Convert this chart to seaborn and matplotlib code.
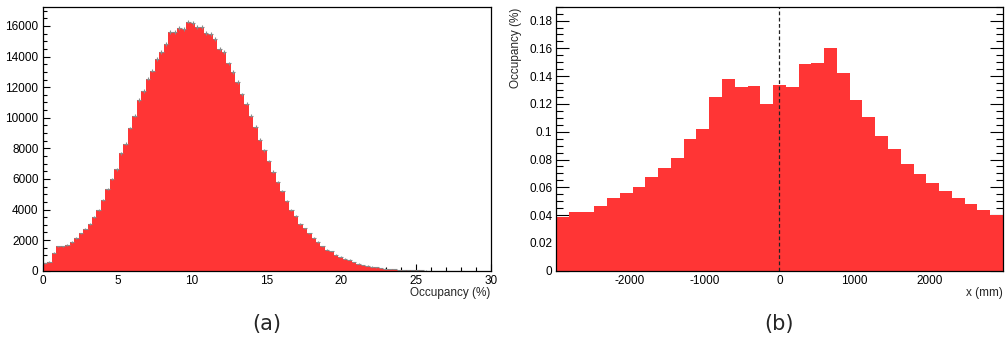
import numpy as np
import pandas as pd
import seaborn as sns
import matplotlib.pyplot as plt
from matplotlib.ticker import MultipleLocator, FuncFormatter

# (a) occupancy distribution: 100 bins between 0 and 30 %
occ_range = (0, 30)
occ_counts = [
    480, 600, 1180, 1600, 1600, 1680, 1880, 2140, 2440, 2750,
    3050, 3530, 3970, 4620, 5340, 5980, 6630, 7680, 8310, 9330,
    10120, 11160, 11750, 12560, 13080, 13850, 14300, 14830, 15590, 15590,
    15890, 15790, 16290, 16220, 15960, 15960, 15530, 15500, 15130, 14480,
    14280, 13560, 13000, 12340, 11540, 10920, 10120, 9400, 8570, 7870,
    7170, 6480, 5820, 5190, 4580, 3970, 3580, 3070, 2770, 2440,
    2160, 1880, 1600, 1370, 1270, 1050, 920, 780, 720, 570,
    460, 370, 330, 270, 220, 180, 140, 110, 90, 70,
    55, 40, 30, 25, 18, 13, 10, 7, 5, 4,
    3, 2, 1, 1, 0, 0, 0, 0, 0, 0,
]

# (b) occupancy vs x position: 35 bins between -2975 and 2975 mm
x_range = (-2975, 2975)
x_occ = [
    0.0386, 0.0424, 0.0424, 0.0467, 0.0525, 0.0561, 0.0604, 0.0676, 0.0741, 0.0813,
    0.0949, 0.1021, 0.1251, 0.1381, 0.1323, 0.1330, 0.1201, 0.1338, 0.1321, 0.1491,
    0.1496, 0.1604, 0.1426, 0.1225, 0.1107, 0.0971, 0.0877, 0.0765, 0.0698, 0.0628,
    0.0575, 0.0525, 0.0482, 0.0439, 0.0403,
]

RED = '#ff3535'

sns.set_style('ticks')
plt.rcParams['font.family'] = ['Liberation Sans', 'DejaVu Sans']
plt.rcParams['axes.unicode_minus'] = False

occ_edges = np.linspace(occ_range[0], occ_range[1], len(occ_counts) + 1)
occ_centers = 0.5 * (occ_edges[:-1] + occ_edges[1:])
df_a = pd.DataFrame({'occ': occ_centers, 'n': occ_counts})

x_edges = np.linspace(x_range[0], x_range[1], len(x_occ) + 1)
x_centers = 0.5 * (x_edges[:-1] + x_edges[1:])
df_b = pd.DataFrame({'x': x_centers, 'occ': x_occ})

fig = plt.figure(figsize=(10.05, 3.4), dpi=100)
ax1 = fig.add_axes([0.0425, 0.2038, 0.4458, 0.7765])
ax2 = fig.add_axes([0.5532, 0.2038, 0.4448, 0.7765])

# left panel
sns.histplot(data=df_a, x='occ', weights='n', bins=len(occ_counts),
             binrange=occ_range, color=RED, alpha=1, linewidth=0, ax=ax1)
nz = df_a[df_a['n'] > 0]
ax1.errorbar(nz['occ'], nz['n'], yerr=np.sqrt(nz['n']), xerr=0.15,
             fmt='none', ecolor='#8a8a8a', elinewidth=0.8)
ax1.set_xlim(*occ_range)
ax1.set_ylim(0, 17260)
ax1.xaxis.set_major_locator(MultipleLocator(5))
ax1.xaxis.set_minor_locator(MultipleLocator(1))
ax1.yaxis.set_major_locator(MultipleLocator(2000))
ax1.yaxis.set_minor_locator(MultipleLocator(500))
ax1.set_ylabel('')
ax1.set_xlabel('Occupancy (%)', fontsize=8.5)
ax1.xaxis.set_label_coords(1.0, -0.085)
ax1.xaxis.label.set_ha('right')
ax1.xaxis.label.set_va('center')

# right panel
sns.histplot(data=df_b, x='x', weights='occ', bins=len(x_occ),
             binrange=x_range, color=RED, alpha=1, linewidth=0, ax=ax2)
ax2.axvline(0, color='#222222', ls=(0, (3, 2)), lw=0.9)
ax2.set_xlim(*x_range)
ax2.set_ylim(0, 0.19)
ax2.xaxis.set_major_locator(MultipleLocator(1000))
ax2.xaxis.set_minor_locator(MultipleLocator(200))
ax2.yaxis.set_major_locator(MultipleLocator(0.02))
ax2.yaxis.set_minor_locator(MultipleLocator(0.005))
ax2.yaxis.set_major_formatter(FuncFormatter(lambda v, p: '%g' % round(v, 3)))
ax2.set_xlabel('x (mm)', fontsize=8.5)
ax2.xaxis.set_label_coords(1.0, -0.085)
ax2.xaxis.label.set_ha('right')
ax2.xaxis.label.set_va('center')
ax2.set_ylabel('Occupancy (%)', fontsize=8.5)
ax2.yaxis.label.set_rotation_mode('anchor')
ax2.yaxis.label.set_ha('right')
ax2.yaxis.label.set_va('center')
ax2.yaxis.set_label_coords(-0.089, 0.995)

for ax in (ax1, ax2):
    for s in ax.spines.values():
        s.set_visible(True)
        s.set_color('black')
        s.set_linewidth(0.9)
    ax.tick_params(which='both', direction='in', labelsize=8.5, colors='black',
                   top=False, width=0.8)
    ax.tick_params(which='major', length=5, pad=3)
    ax.tick_params(which='minor', length=2.8)

ax1.tick_params(which='both', right=False)
ax2.tick_params(which='both', right=True)
ax2.tick_params(axis='y', which='major', length=9.5, pad=2.5)
ax2.tick_params(axis='y', which='minor', length=5)
ax2.tick_params(axis='x', which='major', length=5.5)
ax2.tick_params(axis='x', which='minor', length=3)

fig.text(0.2654, 1 - 324 / 340, '(a)', ha='center', va='center', fontsize=15,
         family='DejaVu Sans')
fig.text(0.7756, 1 - 324 / 340, '(b)', ha='center', va='center', fontsize=15,
         family='DejaVu Sans')

fig.savefig('out.png', dpi=100)
